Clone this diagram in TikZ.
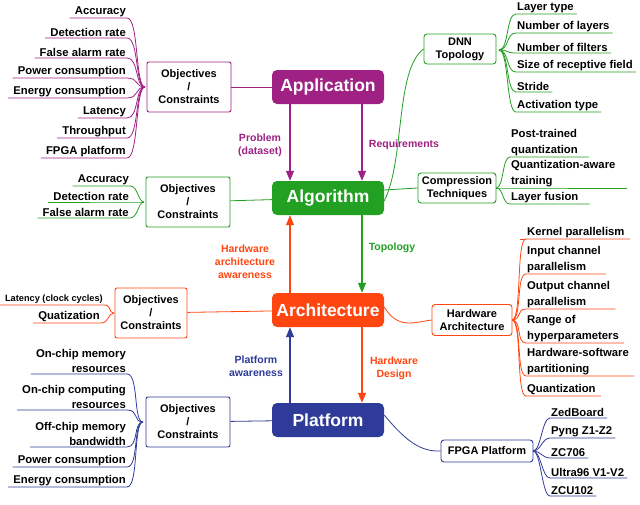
\documentclass[tikz,border=0pt]{standalone}
\usepackage{fontspec}
\setmainfont{Liberation Sans}
\usetikzlibrary{arrows.meta}
\definecolor{cA}{HTML}{9E2183}
\definecolor{cG}{HTML}{22A022}
\definecolor{cR}{HTML}{FF4510}
\definecolor{cB}{HTML}{2E3B98}
\begin{document}
\begin{tikzpicture}[x=1pt,y=-1pt,
 main/.style={rounded corners=5pt,minimum width=112pt,minimum height=34pt,text=white,font=\bfseries\fontsize{17.5}{20}\selectfont},
 obj/.style={draw,rounded corners=2pt,line width=0.9pt,minimum width=84pt,minimum height=50pt,align=center,text=black,font=\bfseries\fontsize{11}{13}\selectfont},
 sub/.style={draw,rounded corners=3pt,line width=0.9pt,align=center,text=black,inner sep=1pt,font=\bfseries\fontsize{11}{13}\selectfont},
 lf/.style={inner sep=1pt,text=black,font=\bfseries\fontsize{11.3}{15.5}\selectfont},
 lab/.style={font=\bfseries\fontsize{10.5}{13}\selectfont,align=center},
 arr/.style={line width=1.1pt,-{Triangle[width=8pt,length=10pt]}},
 ln/.style={line width=0.8pt}]
\useasboundingbox (0,0) rectangle (640,504);
% main boxes
\node[main,fill=cA] (app) at (328,87) {Application};
\node[main,fill=cG] (alg) at (328,198) {Algorithm};
\node[main,fill=cR] (arc) at (328,310) {Architecture};
\node[main,fill=cB] (pla) at (328,420) {Platform};
% arrows
\draw[arr,cA] ([xshift=-38]app.south) -- ([xshift=-38]alg.north);
\draw[arr,cA] ([xshift=34]app.south) -- ([xshift=34]alg.north);
\draw[arr,cG] ([xshift=34]alg.south) -- ([xshift=34]arc.north);
\draw[arr,cR] ([xshift=-38]arc.north) -- ([xshift=-38]alg.south);
\draw[arr,cR] ([xshift=34]arc.south) -- ([xshift=34]pla.north);
\draw[arr,cB] ([xshift=-38]pla.north) -- ([xshift=-38]arc.south);
\node[lab,text=cA] (l1) at (260,145) {Problem\\(dataset)};
\node[lab,text=cA] (l2) at (404,145) {Requirements};
\node[lab,text=cG] (l3) at (392,248) {Topology};
\node[lab,text=cR] (l4) at (245,262) {Hardware\\architecture\\awareness};
\node[lab,text=cB] (l5) at (256,366) {Platform\\awareness};
\node[lab,text=cR] (l6) at (394,368) {Hardware\\Design};
% objective boxes
\node[obj,draw=cA] (oa) at (189,87) {Objectives\\/\\Constraints};
\node[obj,draw=cG] (og) at (188,202) {Objectives\\/\\Constraints};
\node[obj,draw=cR,minimum width=72pt] (or) at (151,313) {Objectives\\/\\Constraints};
\node[obj,draw=cB] (ob) at (188,422) {Objectives\\/\\Constraints};
\draw[ln,cA] (oa) -- (app);
\draw[ln,cG] (og) -- (alg);
\draw[ln,cR] (or) -- (arc);
\draw[ln,cB] (ob) -- (pla);
\coordinate (ha) at (145,87);
\coordinate (hg) at (144,202);
\coordinate (hr) at (114,313);
\coordinate (hb) at (143,422);
\foreach \t/\y [count=\i] in {Accuracy/10,Detection rate/30,False alarm rate/50,Power consumption/70,Energy consumption/90,Latency/110,Throughput/130,FPGA platform/150}{
 \node[lf,anchor=south east] (a\i) at (127,\y+8) {\t};
 \draw[ln,cA] ([xshift=-4]a\i.south west) -- (a\i.south east) .. controls +(12,0) and +(-10,0) .. (ha);}
\foreach \t/\y [count=\i] in {Accuracy/178,Detection rate/194,False alarm rate/210}{
 \node[lf,anchor=south east] (g\i) at (130,\y+8) {\t};
 \draw[ln,cG] ([xshift=-4]g\i.south west) -- (g\i.south east) .. controls +(8,0) and +(-6,0) .. (hg);}
\node[lf,anchor=south east,font=\bfseries\fontsize{9.2}{12}\selectfont] (r1) at (104,305) {Latency (clock cycles)};
\node[lf,anchor=south east] (r2) at (101,323) {Quatization};
\draw[ln,cR] (0,305) -- (r1.south east) .. controls +(8,0) and +(-6,0) .. (hr);
\draw[ln,cR] ([xshift=-4]r2.south west) -- (r2.south east) .. controls +(8,0) and +(-6,0) .. (hr);
\foreach \t/\y [count=\i] in {{On-chip memory\\resources}/384,{On-chip computing\\resources}/420,{Off-chip memory\\bandwidth}/457,Power consumption/477,Energy consumption/497}{
 \node[lf,anchor=south east,align=right] (b\i) at (127,\y-10) {\t};
 \draw[ln,cB] ([xshift=-4]b\i.south west) -- (b\i.south east) .. controls +(12,0) and +(-10,0) .. (hb);}
% right side
\node[sub,draw=cG,minimum width=72pt,minimum height=30pt] (dnn) at (460,49) {DNN\\Topology};
\node[sub,draw=cG,minimum width=78pt,minimum height=30pt] (cmp) at (457,188) {Compression\\Techniques};
\node[sub,draw=cR,minimum width=80pt,minimum height=31pt] (hw) at (472,320) {Hardware\\Architecture};
\node[sub,draw=cB,minimum width=92pt,minimum height=22pt] (fp) at (487,451) {FPGA Platform};
\draw[ln,cG] ([yshift=-3]alg.east) .. controls (405,160) and (395,70) .. (dnn.west);
\draw[ln,cG] ([yshift=8]alg.east) -- (cmp.west);
\draw[ln,cR] ([yshift=3]arc.east) .. controls (398,330) and (415,322) .. (hw.west);
\draw[ln,cB] ([yshift=5]pla.east) .. controls (405,440) and (420,452) .. (fp.west);
\coordinate (hd) at (499,50);
\coordinate (hc) at (496,188);
\coordinate (hh) at (512,320);
\coordinate (hf) at (533,451);
\foreach \t/\y [count=\i] in {Layer type/6,Number of layers/25,Number of filters/45,Size of receptive field/64,Stride/84,Activation type/104}{
 \node[lf,anchor=south west] (d\i) at (516,\y+8) {\t};
 \draw[ln,cG] (hd) .. controls +(10,0) and +(-10,0) .. (d\i.south west) -- ([xshift=2]d\i.south east);}
\foreach \t/\y [count=\i] in {{Post-trained\\quantization}/149,{Quantization-aware\\training}/180,Layer fusion/196}{
 \node[lf,anchor=south west,align=left] (c\i) at (510,\y+8) {\t};
 \draw[ln,cG] (hc) .. controls +(8,0) and +(-8,0) .. (c\i.south west) -- ([xshift=10]c\i.south east);}
\foreach \t/\y [count=\i] in {Kernel parallelism/231,{Input channel\\parallelism}/266,{Output channel\\parallelism}/301,{Range of\\hyperparameters}/335,{Hardware-software\\partitioning}/368,Quantization/388}{
 \node[lf,anchor=south west,align=left] (k\i) at (526,\y+8) {\t};
 \draw[ln,cR] (hh) .. controls +(10,0) and +(-10,0) .. (k\i.south west) -- ([xshift=4]k\i.south east);}
\draw[ln,cR] (k1.south west) -- ++(-6,0);
\foreach \t/\y [count=\i] in {ZedBoard/410,Pyng Z1-Z2/430,ZC706/450,Ultra96 V1-V2/470,ZCU102/488}{
 \node[lf,anchor=south west] (f\i) at (550,\y+8) {\t};
 \draw[ln,cB] (hf) .. controls +(8,0) and +(-8,0) .. (f\i.south west) -- ([xshift=2]f\i.south east);}
\end{tikzpicture}
\end{document}
